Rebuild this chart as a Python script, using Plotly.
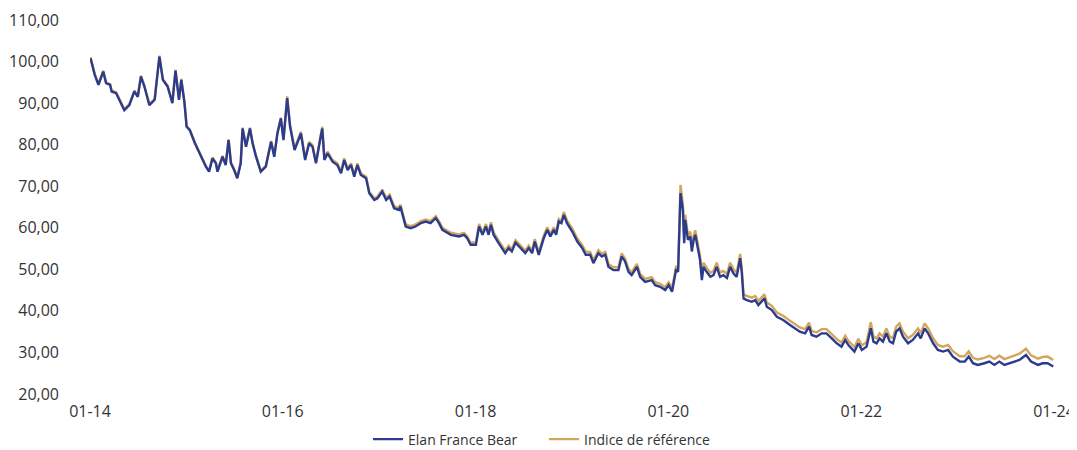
import plotly.graph_objects as go

dates = [
    "2014-01-03","2014-01-19","2014-02-02","2014-02-20","2014-03-03","2014-03-18","2014-03-24","2014-04-10",
    "2014-05-11","2014-05-30","2014-06-18","2014-07-01","2014-07-13","2014-07-26","2014-08-14","2014-09-03",
    "2014-09-21","2014-10-04","2014-10-22","2014-11-09","2014-11-21","2014-12-04","2014-12-13","2014-12-25",
    "2015-01-02","2015-01-14","2015-02-02","2015-02-14","2015-02-27","2015-03-16","2015-03-28","2015-04-10",
    "2015-04-23","2015-04-29","2015-05-18","2015-05-30","2015-06-10","2015-06-19","2015-07-01","2015-07-13",
    "2015-07-26","2015-08-02","2015-08-15","2015-08-30","2015-09-09","2015-09-22","2015-10-10","2015-10-29",
    "2015-11-18","2015-11-30","2015-12-12","2015-12-25",
    "2016-01-04","2016-01-18","2016-01-29","2016-02-15","2016-02-27","2016-03-10","2016-03-26","2016-04-10",
    "2016-04-23","2016-05-06","2016-05-24","2016-05-30","2016-06-07","2016-06-19","2016-07-08","2016-07-26",
    "2016-08-09","2016-08-21","2016-09-03","2016-09-16","2016-09-28","2016-10-10","2016-10-23","2016-11-12",
    "2016-11-24","2016-12-13","2016-12-25",
    "2017-01-12","2017-01-27","2017-02-09","2017-02-26","2017-03-16","2017-03-22","2017-04-11","2017-04-30",
    "2017-05-18","2017-06-07","2017-06-26","2017-07-14","2017-08-03","2017-08-15","2017-08-28","2017-09-29",
    "2017-10-30","2017-11-18","2017-11-30","2017-12-13",
    "2018-01-02","2018-01-14","2018-01-27","2018-02-09","2018-02-19","2018-02-28","2018-03-10","2018-03-29",
    "2018-04-23","2018-05-06","2018-05-18","2018-06-01","2018-06-20","2018-07-08","2018-07-21","2018-08-03",
    "2018-08-13","2018-08-28","2018-09-16","2018-09-29","2018-10-11","2018-10-24","2018-11-02","2018-11-12",
    "2018-11-22","2018-12-01","2018-12-13",
    "2019-01-02","2019-01-21","2019-02-09","2019-02-22","2019-03-11","2019-03-23","2019-04-11","2019-04-24",
    "2019-05-07","2019-05-19","2019-06-07","2019-06-26","2019-07-08","2019-07-21","2019-08-03","2019-08-15",
    "2019-09-04","2019-09-16","2019-10-05","2019-10-30","2019-11-12","2019-12-01","2019-12-20",
    "2020-01-02","2020-01-15","2020-01-30","2020-02-07","2020-02-16","2020-02-25","2020-03-01","2020-03-05",
    "2020-03-15","2020-03-24","2020-03-30","2020-04-06","2020-04-12","2020-04-22","2020-04-30","2020-05-07",
    "2020-05-13","2020-05-25","2020-06-08","2020-06-20","2020-07-02","2020-07-15","2020-07-27","2020-08-10",
    "2020-08-22","2020-09-04","2020-09-16","2020-09-29","2020-10-05","2020-10-12","2020-10-24","2020-11-12",
    "2020-11-25","2020-12-07","2020-12-30",
    "2021-01-08","2021-01-27","2021-02-15","2021-03-11","2021-04-06","2021-04-24","2021-05-13","2021-06-02",
    "2021-06-17","2021-06-27","2021-07-15","2021-08-04","2021-08-22","2021-09-11","2021-09-30","2021-10-18",
    "2021-11-01","2021-11-13","2021-12-06","2021-12-21",
    "2022-01-03","2022-01-21","2022-02-06","2022-02-16","2022-02-28","2022-03-11","2022-03-24","2022-04-06",
    "2022-04-19","2022-05-01","2022-05-13","2022-05-26","2022-06-08","2022-06-27","2022-07-15","2022-08-04",
    "2022-08-14","2022-08-29","2022-09-11","2022-09-30","2022-10-18","2022-11-07","2022-11-26","2022-12-14",
    "2023-01-09","2023-01-28","2023-02-12","2023-02-28","2023-03-18","2023-04-12","2023-05-01","2023-05-20",
    "2023-06-08","2023-06-27","2023-07-15","2023-08-04","2023-08-23","2023-09-17","2023-10-06","2023-11-01",
    "2023-11-19","2023-12-08","2023-12-29",
]

fund = [
    100.8,96.8,94.4,97.6,94.8,94.4,92.8,92.4,88.3,89.5,92.8,91.5,96.4,94.0,89.5,90.8,
    101.2,95.6,94.0,90.0,97.8,90.8,95.6,90.0,
    84.3,83.5,80.4,78.7,77.1,74.7,73.5,76.7,75.5,73.5,77.1,75.1,81.1,75.5,73.9,71.9,
    75.5,83.9,79.5,83.9,80.3,77.1,73.5,74.7,80.7,77.1,82.7,86.3,
    81.1,91.2,84.3,78.7,80.7,82.7,76.3,80.3,79.5,75.5,81.9,83.9,76.3,77.9,75.9,75.1,
    73.1,76.3,73.9,75.1,72.3,75.1,72.7,71.9,68.3,66.7,67.1,
    68.7,66.7,67.5,64.7,64.3,65.1,60.3,59.9,60.3,61.1,61.5,61.1,62.3,61.1,59.5,58.3,
    57.9,58.3,57.5,55.9,
    55.9,60.3,58.3,60.3,58.3,60.7,58.3,56.3,53.9,55.1,54.3,56.4,55.1,53.9,55.1,53.9,
    56.7,53.5,57.5,59.5,57.9,59.5,58.3,61.5,61.1,63.1,61.1,
    59.1,56.7,55.1,53.5,53.5,51.5,53.9,53.1,53.5,50.6,49.8,49.8,53.1,51.9,49.4,48.6,
    50.6,48.2,47.0,47.4,46.2,45.8,45.0,
    46.2,44.6,49.8,49.4,68.3,64.3,56.3,61.9,57.1,57.9,54.3,57.1,58.3,55.4,52.3,47.4,
    50.6,49.4,48.2,48.6,50.6,48.2,48.6,47.9,50.6,49.0,48.2,52.7,49.4,43.0,42.6,42.2,
    42.6,41.4,43.0,
    41.0,40.2,38.6,37.8,36.6,35.8,35.0,34.6,36.2,34.2,33.8,34.6,34.6,33.4,32.2,31.4,
    33.0,31.8,30.2,32.2,
    30.6,31.4,35.8,32.6,32.2,33.4,32.6,34.6,32.6,32.2,35.0,35.8,33.8,32.2,33.0,34.6,
    33.4,35.8,34.6,32.2,30.6,30.2,30.6,29.0,
    27.8,27.8,29.0,27.4,27.0,27.4,27.8,27.0,27.8,27.0,27.4,27.8,28.2,29.4,27.8,27.0,
    27.4,27.4,26.6,
]

benchmark = [
    101.0,97.0,94.6,97.8,95.0,94.6,93.0,92.6,88.5,89.7,93.0,91.7,96.6,94.2,89.7,91.0,
    101.4,95.8,94.2,90.2,98.0,91.0,95.8,90.2,
    84.5,83.7,80.6,78.9,77.3,74.9,73.7,76.9,75.7,73.7,77.3,75.3,81.3,75.7,74.1,72.1,
    75.7,84.1,79.7,84.1,80.5,77.3,73.7,74.9,80.9,77.3,82.9,86.5,
    81.5,91.6,84.7,79.1,81.1,83.1,76.7,80.7,79.9,75.9,82.3,84.3,76.7,78.3,76.3,75.5,
    73.5,76.7,74.3,75.5,72.7,75.5,73.1,72.3,68.7,67.1,67.5,
    69.2,67.2,68.0,65.2,64.8,65.6,60.8,60.4,60.8,61.6,62.0,61.6,62.8,61.6,60.0,58.8,
    58.4,58.8,58.0,56.4,
    56.5,60.9,58.9,60.9,58.9,61.3,58.9,56.9,54.5,55.7,54.9,57.0,55.7,54.5,55.7,54.5,
    57.3,54.1,58.1,60.1,58.5,60.1,58.9,62.1,61.7,63.8,61.8,
    59.8,57.4,55.8,54.2,54.2,52.2,54.6,53.8,54.2,51.3,50.5,50.5,53.8,52.6,50.1,49.3,
    51.3,48.9,47.7,48.1,46.9,46.5,45.7,
    46.9,45.4,50.6,50.2,70.3,65.6,57.5,63.1,58.3,59.1,55.4,58.2,59.4,56.4,53.3,48.4,
    51.6,50.4,49.2,49.6,51.6,49.2,49.6,48.9,51.6,50.0,49.2,53.7,50.4,44.0,43.6,43.2,
    43.6,42.4,44.0,
    42.0,41.2,39.6,38.8,37.6,36.8,36.0,35.6,37.2,35.2,34.8,35.6,35.6,34.4,33.2,32.4,
    34.0,32.8,31.3,33.3,
    31.7,32.5,37.3,33.8,33.4,34.6,33.8,35.8,33.8,33.4,36.2,37.0,35.0,33.4,34.2,35.8,
    34.6,37.0,35.8,33.4,31.8,31.4,31.8,30.3,
    29.1,29.1,30.3,28.7,28.3,28.7,29.2,28.4,29.2,28.4,28.8,29.2,29.7,30.9,29.3,28.5,
    28.9,29.0,28.2,
]

series_names = ["Elan France Bear", "Indice de référence"]
series_colors = ["#2B3B8E", "#D2A65C"]

fig = go.Figure()
fig.add_trace(go.Scatter(x=dates, y=benchmark, mode="lines", name=series_names[1],
                         line=dict(color=series_colors[1], width=2.4), legendrank=2))
fig.add_trace(go.Scatter(x=dates, y=fund, mode="lines", name=series_names[0],
                         line=dict(color=series_colors[0], width=2.4), legendrank=1))

# page body has an 8px default margin, so the figure is sized to fit the window
fig.update_layout(
    width=1069, height=442,
    margin=dict(l=82, r=23, t=12, b=56, autoexpand=False),
    paper_bgcolor="white", plot_bgcolor="white",
    separators=", ",
    font=dict(family="Open Sans, sans-serif", size=16, color="#333333"),
    showlegend=True,
    legend=dict(orientation="h", x=0.471, xanchor="center",
                yref="container", y=0.06, yanchor="top",
                font=dict(size=14, color="#333333"), itemwidth=30,
                entrywidth=131, entrywidthmode="pixels"),
)
fig.update_xaxes(
    type="date", range=["2014-01-01", "2024-01-01"],
    tick0="2014-01-01", dtick="M24", tickformat="%m-%y",
    showgrid=False, zeroline=False, showline=False, ticks="",
    ticklabelstandoff=6, automargin=False,
)
fig.update_yaxes(
    range=[20, 110], dtick=10, tick0=20, tickformat=".2f",
    showgrid=False, zeroline=False, showline=False, ticks="",
    ticklabelstandoff=30, automargin=False,
)

fig.write_html("out.html")
